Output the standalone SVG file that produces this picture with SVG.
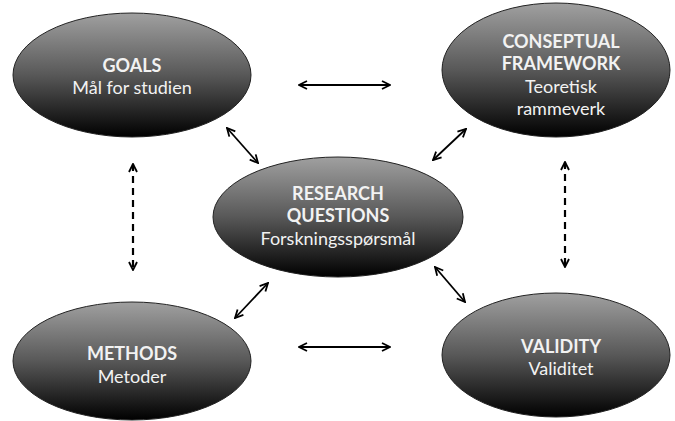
<svg xmlns="http://www.w3.org/2000/svg" width="675" height="421" viewBox="0 0 675 421">
<defs>
<linearGradient id="g" x1="0" y1="0" x2="0" y2="1">
<stop offset="0" stop-color="#a0a0a0"/>
<stop offset="0.5" stop-color="#585858"/>
<stop offset="1" stop-color="#000000"/>
</linearGradient>
<marker id="ah" viewBox="0 0 10 10" refX="9" refY="5" markerWidth="10" markerHeight="10" markerUnits="userSpaceOnUse" orient="auto-start-reverse">
<path d="M1,1 L9,5 L1,9" fill="none" stroke="#000" stroke-width="1.8"/>
</marker>
</defs>
<style>
.node ellipse{fill:url(#g);stroke:#222;stroke-width:1}
.node text{font-family:Lato,"Open Sans",sans-serif;font-size:18px;fill:#f2f2f2;text-anchor:middle}
.node .b{font-weight:bold}
.c line{stroke:#000;stroke-width:1.8;marker-start:url(#ah);marker-end:url(#ah)}
.c .d{stroke-width:2.2;stroke-dasharray:7 5}
</style>
<rect width="675" height="421" fill="#fff"/>
<g class="c" id="connectors">
<line x1="299" y1="85" x2="390" y2="85"/>
<line x1="227" y1="128" x2="258" y2="163"/>
<line x1="466" y1="129" x2="433" y2="160"/>
<line class="d" x1="133" y1="164" x2="133" y2="270"/>
<line class="d" x1="565" y1="162" x2="565" y2="267"/>
<line x1="268" y1="283" x2="235" y2="318"/>
<line x1="435" y1="267" x2="465" y2="302"/>
<line x1="299" y1="347" x2="390" y2="347"/>
</g>
<g class="node" id="goals">
<ellipse cx="132" cy="75" rx="119" ry="62"/>
<text class="b" x="132" y="72">GOALS</text>
<text x="132" y="94">Mål for studien</text>
</g>
<g class="node" id="framework">
<ellipse cx="556" cy="70" rx="114" ry="67"/>
<text class="b" x="561" y="48">CONSEPTUAL</text>
<text class="b" x="561" y="70">FRAMEWORK</text>
<text x="561" y="93">Teoretisk</text>
<text x="561" y="115">rammeverk</text>
</g>
<g class="node" id="research">
<ellipse cx="338" cy="217" rx="125" ry="60"/>
<text class="b" x="338" y="200">RESEARCH</text>
<text class="b" x="338" y="222">QUESTIONS</text>
<text x="338" y="245">Forskningsspørsmål</text>
</g>
<g class="node" id="methods">
<ellipse cx="132" cy="361" rx="119" ry="59"/>
<text class="b" x="132" y="360">METHODS</text>
<text x="132" y="383">Metoder</text>
</g>
<g class="node" id="validity">
<ellipse cx="556" cy="355" rx="114" ry="62"/>
<text class="b" x="561" y="353">VALIDITY</text>
<text x="561" y="375">Validitet</text>
</g>
</svg>
